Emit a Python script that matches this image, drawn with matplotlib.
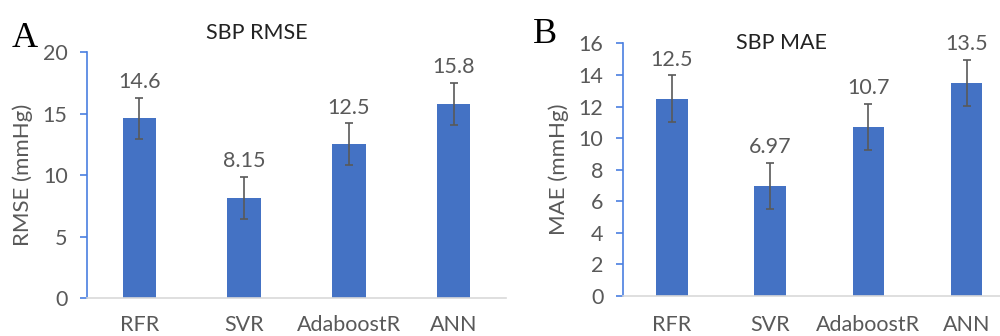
import numpy as np
import matplotlib
matplotlib.use("Agg")
import matplotlib.pyplot as plt

models = ["RFR", "SVR", "AdaboostR", "ANN"]
rmse = [14.6, 8.15, 12.5, 15.8]
rmse_err = [1.7, 1.7, 1.7, 1.7]
mae = [12.5, 6.97, 10.7, 13.5]
mae_err = [1.47, 1.47, 1.47, 1.47]

BAR = "#4472C4"
AXIS_BLUE = "#4A7FE0"
GREY = "#595959"

plt.rcParams["font.family"] = ["Lato", "DejaVu Sans"]

fig = plt.figure(figsize=(10, 3.36), dpi=100)


def panel(rect, vals, errs, ymax, ystep, ylabel, label_pad):
    ax = fig.add_axes(rect)
    x = np.arange(len(models))
    ax.bar(x, vals, width=0.32, color=BAR, zorder=2)
    ax.errorbar(x, vals, yerr=errs, fmt="none", ecolor=GREY, elinewidth=1.2,
                capsize=3, capthick=1.2, zorder=3)
    for xi, v, e in zip(x, vals, errs):
        ax.annotate(f"{v:g}", (xi, v + e), xytext=(0, 4), textcoords="offset points",
                    ha="center", va="bottom", fontsize=15.5, color=GREY)
    ax.set_xlim(-0.5, len(models) - 0.5)
    ax.set_ylim(0, ymax)
    ax.set_yticks(np.arange(0, ymax + 0.1, ystep))
    ax.set_xticks(x)
    ax.set_xticklabels(models)
    ax.tick_params(axis="x", length=0, pad=label_pad, labelsize=15.5, labelcolor=GREY)
    ax.tick_params(axis="y", direction="out", length=5, width=1.2, color=AXIS_BLUE,
                   pad=9, labelsize=15.5, labelcolor=GREY)
    for s in ("top", "right"):
        ax.spines[s].set_visible(False)
    ax.spines["left"].set_color(AXIS_BLUE)
    ax.spines["left"].set_linewidth(1.2)
    ax.spines["bottom"].set_color("#D9D9D9")
    ax.spines["bottom"].set_linewidth(1.2)
    ax.set_ylabel(ylabel, fontsize=16, color=GREY, labelpad=7)
    return ax


ax_a = panel([0.087, 0.113, 0.419, 0.732], rmse, rmse_err, 20, 5, "RMSE (mmHg)", 12)
ax_b = panel([0.6227, 0.119, 0.393, 0.752], mae, mae_err, 16, 2, "MAE (mmHg)", 14)

fig.text(0.257, 0.902, "SBP RMSE", ha="center", va="center", fontsize=15.5, color="#222222")
fig.text(0.782, 0.872, "SBP MAE", ha="center", va="center", fontsize=15.5, color="#222222")

fig.text(0.012, 1 - 47 / 336, "A", fontsize=26, family="Liberation Serif", va="baseline")
fig.text(0.533, 1 - 43 / 336, "B", fontsize=26, family="Liberation Serif", va="baseline")

fig.savefig("out.png", dpi=100)
